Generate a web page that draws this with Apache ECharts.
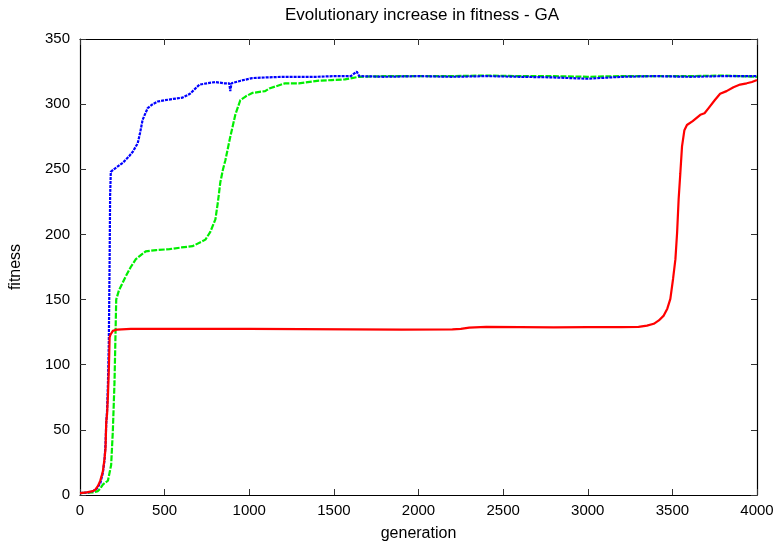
<!DOCTYPE html>
<html>
<head>
<meta charset="utf-8">
<script src="https://cdn.jsdelivr.net/npm/echarts@6/dist/echarts.min.js"></script>
<style>html,body{margin:0;padding:0;background:#fff}#c{width:779px;height:547px}</style>
</head>
<body>
<div id="c"></div>
<script>
var titleText = 'Evolutionary increase in fitness - GA';
var xName = 'generation';
var yName = 'fitness';
var xTicks = [0, 500, 1000, 1500, 2000, 2500, 3000, 3500, 4000];
var yTicks = [0, 50, 100, 150, 200, 250, 300, 350];

var redData = [[0,1.5],[40,2],[76,3],[90,4],[106,7],[120,11],[135,18],[145,28],[151,36],[155,56],[160,62],[165,76],[171,99],[175,121],[180,123],[194,126],[220,127],[300,127.5],[500,127.5],[800,127.5],[1000,127.5],[1300,127.3],[1600,127.2],[1900,127],[2200,127.2],[2250,127.5],[2300,128.5],[2400,129],[2600,128.8],[2800,128.6],[3000,128.8],[3200,128.9],[3300,129],[3350,130],[3390,131.4],[3420,134],[3449,137.7],[3470,143],[3488,150.5],[3504,165.8],[3518,181],[3528,201.5],[3537,227],[3547,247],[3557,267.6],[3571,280],[3586,284],[3620,287],[3665,291.8],[3690,293],[3714,297],[3750,303],[3782,308],[3820,310],[3861,313],[3900,315],[3939,316],[3970,317],[4000,318.5]];

var blueData = [[0,1.5],[50,2],[76,3],[100,5],[120,9],[135,17],[145,27],[151,40],[155,55],[160,65],[165,85],[170,115],[172,140],[175,180],[178,230],[182,248],[200,250],[253,255],[290,260],[312,263.5],[341,270],[355,278],[370,288],[400,297],[430,300],[459,302],[500,303],[550,304],[606,305],[650,308],[706,315],[750,316],[800,317],[850,316],[882,316],[888,310],[895,316],[950,318],[1018,320],[1100,320.5],[1200,321],[1312,321],[1400,321],[1500,321.5],[1600,321.5],[1635,325],[1650,321.5],[1800,321],[2000,321.5],[2200,321],[2400,321.5],[2600,321],[2800,320.5],[3000,319.5],[3200,321],[3400,321.5],[3600,321],[3800,321.5],[4000,321.5]];

var greenData = [[0,1.5],[76,2],[106,3],[120,5],[135,8],[165,11],[184,23],[194,49],[204,87],[210,125],[214,150],[230,157],[271,168],[300,175],[330,181],[388,187],[450,188],[529,188.7],[600,190],[665,191],[741,196],[770,202],[800,211.6],[815,225],[829,240],[845,250],[859,257],[888,275],[918,292],[947,303],[980,306],[1018,308.6],[1094,310],[1118,312],[1212,316],[1292,316],[1412,318],[1488,318.5],[1565,319],[1650,321],[1800,321.5],[2000,321.5],[2200,321.5],[2400,322],[2600,321.5],[2800,321.5],[3000,321],[3200,321.5],[3400,321.5],[3600,321.5],[3800,322],[4000,321]];

var font = "'Liberation Sans', Arial, Helvetica, sans-serif";
var chart = echarts.init(document.getElementById('c'));

function xAxisDef(pos, showLabel) {
  return {
    type: 'value', position: pos, min: xTicks[0], max: xTicks[xTicks.length - 1],
    interval: xTicks[1] - xTicks[0],
    name: showLabel ? xName : '', nameLocation: 'middle', nameGap: 31,
    nameTextStyle: { fontFamily: font, fontSize: 16, color: '#000' },
    axisLine: { show: true, onZero: false, lineStyle: { color: '#000', width: 1.2 } },
    axisTick: { show: true, inside: true, length: 6, lineStyle: { color: '#333' } },
    axisLabel: { show: showLabel, fontFamily: font, fontSize: 15, color: '#000', margin: 8,
      formatter: function (v) { return String(v); } },
    splitLine: { show: false }
  };
}
function yAxisDef(pos, showLabel) {
  return {
    type: 'value', position: pos, min: yTicks[0], max: yTicks[yTicks.length - 1],
    interval: yTicks[1] - yTicks[0],
    name: showLabel ? yName : '', nameLocation: 'middle', nameGap: 56, nameRotate: 90,
    nameTextStyle: { fontFamily: font, fontSize: 16, color: '#000' },
    axisLine: { show: true, onZero: false, lineStyle: { color: '#000', width: 1.2 } },
    axisTick: { show: true, inside: true, length: 6, lineStyle: { color: '#333' } },
    axisLabel: { show: showLabel, fontFamily: font, fontSize: 15, color: '#000', margin: 10,
      formatter: function (v) { return String(v); } },
    splitLine: { show: false }
  };
}

chart.setOption({
  animation: false,
  backgroundColor: '#fff',
  title: {
    text: titleText, left: 417, top: 2, textAlign: 'center',
    textStyle: { fontFamily: font, fontSize: 17, fontWeight: 'normal', color: '#000' }
  },
  grid: { left: 77, right: 22, top: 39, bottom: 50, containLabel: false },
  xAxis: [xAxisDef('bottom', true), xAxisDef('top', false)],
  yAxis: [yAxisDef('left', true), yAxisDef('right', false)],
  series: [
    { type: 'line', data: greenData, showSymbol: false, symbol: 'none', smooth: false,
      lineStyle: { color: '#00ee00', width: 2.2, type: [6, 1.5] } },
    { type: 'line', data: blueData, showSymbol: false, symbol: 'none', smooth: false,
      lineStyle: { color: '#0000ff', width: 2.2, type: [3, 1] } },
    { type: 'line', data: redData, showSymbol: false, symbol: 'none', smooth: false,
      lineStyle: { color: '#ff0000', width: 2.2 } }
  ]
});
</script>
</body>
</html>
